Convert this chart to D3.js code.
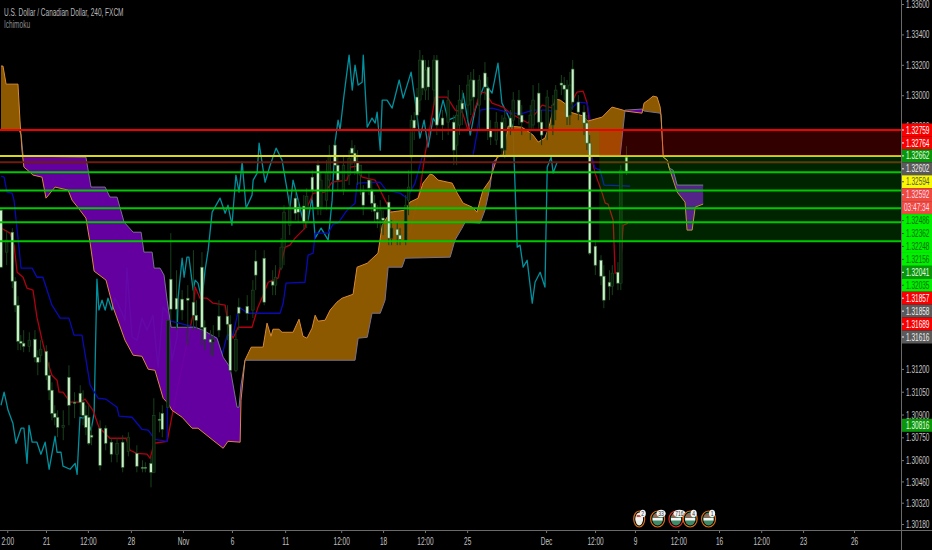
<!DOCTYPE html>
<html><head><meta charset="utf-8">
<script src="https://cdn.jsdelivr.net/npm/d3@7/dist/d3.min.js"></script>
<style>html,body{margin:0;padding:0;background:#000;overflow:hidden}svg{display:block}</style>
</head><body><svg id="c" width="932" height="550"></svg>
<script>
// All prices are stored as pipettes above 1.30000 (2771 means 1.32771); x values are bar numbers of the 4h series.
const candleBars=[0,2,4,5,6,7,8,10,12,13,14,16,17,18,19,20,22,24,26,28,29,30,31,32,35,37,39,41,43,45,48,50,51,53,54,56,57,59,60,62,64,66,68,69,71,72,74,75,77,80,81,83,84,87,89,90,93,96,97,99,100,102,104,105,107,108,110,112,113,115,116,118,119,121,123,124,125,126,127,128,130,131,132,133,134,135,137,138,140,141,143,144,145,146,147,148,149,150,151,153,154,156,158,160,161,162,163,165,166,167,169,171,172,173,175,177,178,180,181,183,184,187,188,190,191,193,195,196,198,199,200,201,202,204,206,207,208,210,212,213,215,216,218,219,221];
const candleOpen=[2244,1968,2099,1777,1619,1382,1369,1349,1395,1277,1290,1316,1158,1060,908,882,816,1145,981,1040,981,895,882,764,810,810,718,639,718,658,645,553,553,579,520,869,908,948,1790,1665,1659,1665,1639,1553,1869,1474,1395,1376,1547,1547,1494,1191,1606,1612,1587,1909,1928,1777,1751,1863,2001,2145,2323,2264,2271,2165,2461,2540,2264,2310,2442,2672,2540,2376,2475,2652,2619,2560,2475,2363,2442,2376,2290,2231,2178,2192,2297,2060,2119,2080,2047,2310,2593,2836,2988,2968,3231,3034,3185,3034,3231,2850,2823,2823,2672,2804,2948,2935,2968,3100,2935,3146,3047,2771,2705,2823,2639,2850,2836,2968,2869,2771,2804,3014,2823,2771,2804,2903,3080,3067,3040,2869,3172,2955,2889,2817,2685,2007,1915,1810,1770,1744,1836,1764,2593];
const candleHigh=[2257,2113,2126,1803,1678,1422,1455,1441,1455,1323,1389,1356,1244,1112,961,928,928,1224,1047,1093,1060,961,961,829,862,829,744,744,764,783,698,599,586,625,1007,915,961,1520,2093,1849,1718,1751,1981,1652,1968,1520,1455,1488,1652,1619,1553,1455,1665,1685,1784,1981,1981,1849,1882,2060,2277,2343,2376,2310,2343,2389,2507,2573,2494,2573,2672,2705,2606,2606,2639,2705,2672,2639,2540,2409,2494,2442,2343,2277,2310,2244,2343,2178,2165,2126,2343,2507,2869,2889,3047,3297,3264,3231,3231,3264,3264,2903,3034,2869,2935,3067,3034,3133,3153,3172,3133,3218,3120,2836,2889,2869,2903,2903,3021,3034,2935,2935,3067,3080,2903,3034,3001,3067,3133,3120,3100,3153,3231,3001,2935,2869,2738,2047,1948,1882,1849,1882,1902,2540,2665];
const candleLow=[1863,1882,1731,1573,1323,1323,1310,1310,1244,1158,1244,1126,994,862,829,751,731,829,876,895,829,764,698,698,533,665,586,586,520,625,520,520,520,421,520,783,751,948,1520,1455,1520,1356,1455,1455,1356,1323,1290,1283,1408,1389,1178,1178,1455,1520,1534,1718,1619,1685,1685,1849,1882,2080,2178,2165,2113,2126,2310,2211,2211,2244,2376,2475,2376,2343,2409,2540,2475,2409,2343,2211,2343,2231,2165,2126,2099,2080,2014,2014,2014,2014,2014,2211,2376,2705,2804,2889,3001,2968,2968,2935,2738,2705,2738,2540,2540,2738,2804,2836,2869,2889,2771,2968,2705,2672,2672,2606,2586,2738,2771,2804,2738,2705,2771,2771,2672,2705,2738,2836,3001,2968,2804,2804,2903,2836,2738,2639,1948,1817,1751,1599,1652,1685,1718,1718,2475];
const candleClose=[1869,2047,1777,1619,1382,1369,1349,1389,1277,1244,1330,1158,1060,908,882,816,829,961,974,981,895,816,711,751,566,711,639,711,553,751,560,547,547,520,895,862,803,1520,1593,1593,1587,1652,1553,1520,1474,1395,1376,1395,1455,1494,1191,1395,1566,1566,1718,1817,1639,1751,1803,2001,2231,2264,2224,2231,2165,2336,2376,2264,2442,2494,2606,2540,2442,2540,2586,2619,2560,2488,2540,2277,2389,2290,2238,2185,2244,2178,2060,2126,2080,2053,2277,2396,2836,2784,2869,3231,3047,3166,3054,3231,2804,2804,2968,2639,2869,2968,2909,3067,3100,2988,3100,3054,2771,2725,2823,2652,2850,2790,2968,2869,2823,2869,2968,2823,2738,2988,2935,3034,3067,3040,2856,3067,2955,2889,2817,2685,1961,1882,1810,1652,1744,1830,1764,2507,2501];

const tenkanBars=[0,0.7,3.2,4.6,5.7,7.8,9.2,11.3,12.7,14.5,16.6,18,19.8,20.5,21.9,24.4,27.9,29.7,32.5,34.6,38.5,44.2,45.6,48,51.6,52.7,54.1,58.7,61.5,67.8,68.6,70.3,72.8,74.9,79.2,80.2,82,83.8,88.7,90.8,92.6,94.4,97.9,99.7,100.4,102.1,103.9,107.4,108.5,110.3,114.5,117,122.3,123.4,125.8,127.6,132.2,135.7,138.5,141,144.5,148,149.9,151.6,153.4,157.6,160.5,163,165,169.3,171,173.5,177.4,179.9,186.2,191.2,195,199.3,203.5,205.7,207.1,207.8,208.8,209.9,212.4,213.5,214.5,216.3,217,218.8,219.8,221.6];
const tenkanVals=[2126,2119,2093,2014,1836,1803,1731,1718,1540,1389,1237,1158,1126,1047,1047,981,981,1001,928,816,744,744,665,645,639,612,711,724,994,1553,1738,1665,1665,1632,1619,1501,1402,1474,1474,1606,1685,1770,1797,1948,2001,2014,2060,2126,2277,2356,2363,2428,2442,2527,2534,2461,2442,2310,2211,2099,2099,2376,2619,2790,2988,2988,2902,2889,2771,3014,3021,2948,2922,2882,2817,2935,2915,2869,3021,3027,2948,2836,2586,2488,2356,2290,2284,2178,1830,1830,2145,2159];

const kijunBars=[0,1.1,2.1,3.9,4.6,7.1,11,12.7,14.8,18,20.9,24,25.8,28.6,31.5,34.3,37.1,41,41.7,46.3,49.8,52,54.4,58.7,59,68.6,76.3,78.1,79.9,82,84.1,87.3,98.6,99.7,100.7,107.4,108.5,110.3,111,115.6,117.3,119.1,122.3,125.1,125.8,133.9,136.1,141,143.5,146.3,148.8,166.8,168.2,169.3,173.5,178.8,183.4,188,193,198.6,202.1,203.9,207.1,208.2,208.8,209.9,211.7,213.1,222.3];
const kijunVals=[2468,2461,2363,2356,2310,1863,1863,1803,1803,1619,1534,1534,1422,1422,1093,1007,1001,948,889,882,803,797,737,724,1520,1474,1402,1290,1422,1422,1606,1566,1566,1632,1764,1770,1948,1961,2093,2093,2152,2159,2244,2290,2422,2428,2376,2356,2323,2422,2593,2606,2751,2902,2915,2889,2876,2902,2902,2882,2922,2955,2948,2836,2586,2521,2507,2409,2402];

const laggingBars=[0,1.1,2.5,4.2,5.3,7.1,8.1,9.2,9.9,11,12.7,14.1,15.6,17,19.1,19.8,21.2,21.9,24.4,26.2,26.9,27.9,29,30,31.8,32.9,33.9,34.6,35.7,36.8,37.8,39.2,40.3,42.8,43.8,44.5,46.3,48.1,49.8,51.6,53.7,55.5,57.3,59,60.4,62.2,62.6,64,64.7,65.7,66.4,67.9,68.6,69.6,71,72.1,73.2,74.6,75.6,77.4,79.2,80.2,81.6,83,84.1,85.2,86.6,88.7,89.1,90.5,91.2,93.3,95.1,97.2,99.3,101.1,102.1,103.2,105,106.7,108.5,109.9,111,113.1,115.6,117,118,119.1,119.8,121.2,123,124.1,125.1,126.2,127.6,128,129.4,131.1,132.2,132.9,134,134.7,136.4,138.2,140.7,142.1,144.9,146.3,148,149.5,150.9,152.7,154.1,156.2,158,162.2,163.3,165.8,167.5,171,173.5,175.6,177,178.8,180.6,180.9,182.4,183.4,184.5,185.9,187.7,188.7,190.5,192.2,193,194.4,195.1,196.5];
const laggingVals=[961,1047,928,843,711,810,810,579,829,718,718,639,718,540,757,652,652,560,540,579,507,882,876,895,797,908,1790,1587,1652,1587,1665,1587,1665,1566,1520,1863,1408,1389,1534,1455,1553,1211,1606,1566,1257,1408,1672,1928,1803,1935,1935,1718,1784,1764,1652,1849,1981,2231,2264,2323,2224,2277,2145,2475,2363,2560,2257,2343,2442,2488,2685,2428,2540,2652,2573,2376,2257,2442,2310,2178,2178,2330,2060,2126,2047,2310,2685,2836,2771,3001,3264,3034,3198,3067,3086,3264,2790,2850,2817,2889,2639,2968,2968,2915,3100,2981,3152,2968,2718,2836,2659,2850,2804,2968,2836,2869,3014,2738,2902,3080,3014,3211,2948,2882,2804,2784,2001,2014,1869,1915,1632,1770,1836,1738,2527,2593,2488,2560];

const spanABars=[0,0.7,1.8,6,6.7,7.4,8.1,10.2,11.3,14.5,15.9,19.1,23.7,25.1,27.9,30,31.5,32.9,37.1,39.6,43.8,46.7,49.8,52,54.4,57.3,59,60.4,64,67.5,69.6,74.9,78.5,80.2,84.5,84.8,86.2,88.4,92.6,94,95.4,96.1,98.2,99.3,103.2,105.3,106.7,108.1,109.9,111,112,114.5,116.3,118.7,120.5,124.4,125.8,129.4,133.2,134.7,137.5,142.8,144.5,147.4,149.1,151.6,152.7,154.4,159.4,161.2,163.3,166.5,168.2,169.3,170.3,172.8,175.3,177.4,179.2,184.1,188,189.8,192.2,194,195.8,197.6,200,201.1,205.7,207.4,212.4,215.9,219.8,220.5,226.5,227.2,228.7,230.4,231.8,232.9,233.2,234,235.4,236.1,238.9,241.7,242.4,244.2,245.3,248.1];
const spanAVals=[3192,3192,3073,3073,2836,2639,2527,2494,2475,2461,2323,2396,2376,2310,2244,2192,2027,1843,1784,1606,1389,1290,1283,1198,1191,1007,974,928,882,810,810,731,678,724,718,994,1257,1343,1343,1501,1415,1461,1461,1441,1441,1527,1415,1402,1468,1553,1514,1520,1587,1639,1665,1691,1869,1895,1961,2145,2231,2244,2297,2323,2422,2481,2475,2442,2422,2356,2290,2264,2231,2310,2376,2442,2593,2606,2797,2790,2738,2692,2718,2817,2975,2968,2935,2889,2863,2830,2856,2922,2902,2896,2882,2948,2968,2994,2988,2922,2869,2593,2573,2521,2363,2297,2113,2113,2264,2284];
const spanBBars=[0,6.4,7.1,7.8,8.5,30,31.8,36.8,38.5,41,43.5,46.7,49.5,50.5,53.4,54.1,56.2,57.6,58.7,60.1,68.6,71.4,76.3,78.5,80.9,83.4,84.1,84.8,86.2,125.1,126.2,129.4,131.1,134,135.7,136.8,141.7,142.8,158.7,160.4,162.9,164,169.3,171,172.8,173.9,176.4,218.8,220.5,226.5,227.2,232.9,233.2,234,235.4,236.1,237.5,238.9,248.1];
const spanBVals=[2771,2771,2738,2606,2600,2593,2396,2396,2330,2330,2165,2099,2099,1968,1968,1863,1863,1817,1652,1474,1474,1455,1402,1277,1211,948,948,1093,1257,1257,1402,1408,1566,1566,1652,1869,1869,1928,1935,2047,2126,2165,2159,2244,2396,2560,2606,2606,2902,2909,2896,2882,2869,2593,2573,2521,2507,2409,2409];

const levelVals=[2600,2560,2771,2494,2373,2257,2165,2040];
const levelColors=["#d8d81c","#6e1c0c","#f00000","#00c800","#00c800","#00c800","#00c800","#00c800"];
const levelAfterZones=[false,false,true,true,true,true,true,true];
const zoneStartBar=211.4;
const zoneTops=[2771,2600];
const zoneBottoms=[2600,2040];
const zoneColors=["rgba(255,0,0,.2)","rgba(0,255,0,.14)"];

const priceTicks=[1.336,1.334,1.332,1.330,1.328,1.312,1.3105,1.309,1.3075,1.306,1.3046,1.3032,1.3018];
const tagTexts=["1.32759","1.32764","1.32662","1.32602","1.32594","1.32592","03:47:34","1.32486","1.32362","1.32248","1.32156","1.32041","1.32035","1.31857","1.31858","1.31689","1.31616"];
const tagFills=["#f80000","#f80000","#0a960a","#5a5a5a","#f8f800","#ee4a40","#ee4a40","#00f000","#00f000","#00f000","#00f000","#0a960a","#00f000","#f80000","#5a5a5a","#f80000","#5a5a5a"];
const tagInks=["#fff","#fff","#e8ffe8","#eee","#555","#fde","#fde","#0a6a0a","#0a6a0a","#0a6a0a","#0a6a0a","#e8ffe8","#0a6a0a","#fff","#eee","#fff","#eee"];
const timeBars=[2.2,15.9,30.7,45.9,64.3,81.6,100.4,120.2,135,149.8,164.7,192.6,209.9,224,239.3,253.7,268.6,283.4,301.4];
const timeLabels=["2:00","21","12:00","28","Nov","6","11","12:00","18","12:00","25","Dec","12:00","9","12:00","16","12:00","23","26"];
const ideaBars=[225.5,232,238.5,243.5,250];
const ideaCounts=["2","33","716","4","1"];

const W=932,H=550,plotR=901,plotB=530;
const svg=d3.select("#c");
const x=d3.scaleLinear().domain([0,318]).range([1,plotR]);
const price=d=>1.3+d*1e-5;
const y=d3.scaleLinear().domain([1.3018,1.336]).range([524,4]);
const FONT="'Liberation Sans',Arial,sans-serif",SQ=.62;
svg.append("rect").attr("width",W).attr("height",H).attr("fill","#000");
svg.append("defs").append("clipPath").attr("id","plot").append("rect").attr("width",plotR).attr("height",plotB);
const g=svg.append("g").attr("clip-path","url(#plot)");

function drawLine(bars,vals,color,w){
  const line=d3.line().x(d=>x(d[0])).y(d=>y(price(d[1])));
  g.append("path").attr("d",line(d3.zip(bars,vals))).attr("fill","none").attr("stroke",color).attr("stroke-width",w).attr("stroke-linejoin","round");
}
drawLine(laggingBars,laggingVals,"#00919e",1.3);
drawLine(tenkanBars,tenkanVals,"#b00012",1.3);
drawLine(kijunBars,kijunVals,"#0a0ab4",1.3);

// cloud: interpolate both spans on the union of their bars, split at crossings, one path per run
const aAt=d3.scaleLinear().domain(spanABars).range(spanAVals).clamp(true);
const bAt=d3.scaleLinear().domain(spanBBars).range(spanBVals).clamp(true);
const allBars=Array.from(new Set([...spanABars,...spanBBars])).sort(d3.ascending);
const cloudPts=[];
allBars.forEach((b,i)=>{
  if(i){const p=allBars[i-1],d0=aAt(p)-bAt(p),d1=aAt(b)-bAt(b);
    if(d0*d1<0)cloudPts.push(p+(b-p)*d0/(d0-d1));}
  cloudPts.push(b);
});
const area=d3.area().x(d=>x(d)).y0(d=>y(price(aAt(d)))).y1(d=>y(price(bAt(d))));
const runs=[];
d3.pairs(cloudPts).forEach(([p,b])=>{
  const m=(p+b)/2,up=aAt(m)>=bAt(m),last=runs[runs.length-1];
  if(last&&last.up===up)last.pts.push(b);else runs.push({up,pts:[p,b]});
});
runs.forEach(r=>{
  g.append("path").attr("d",area(r.pts)).attr("fill",r.up?"#955d00":"#6a00aa").attr("fill-opacity",.94);
});
drawLine(spanBBars,spanBVals,"#78708c",1);
drawLine(spanABars,spanAVals,"#d98a34",1);

// candles
const candles=candleBars.map((b,i)=>({b,o:candleOpen[i],h:candleHigh[i],l:candleLow[i],c:candleClose[i]}));
const cg=g.append("g");
cg.selectAll("line").data(candles).join("line")
  .attr("x1",d=>x(d.b)).attr("x2",d=>x(d.b)).attr("y1",d=>y(price(d.h))).attr("y2",d=>y(price(d.l)))
  .attr("stroke","#17401a").attr("stroke-width",1);
cg.selectAll("rect").data(candles).join("rect")
  .attr("x",d=>x(d.b)-1.3).attr("width",2.6)
  .attr("y",d=>y(price(Math.max(d.o,d.c)))).attr("height",d=>Math.max(1,Math.abs(y(price(d.o))-y(price(d.c)))))
  .attr("fill",d=>d.c<d.o?"#cdeecb":"#0a1c0a").attr("stroke",d=>d.c<d.o?"#2c6a30":"#1d4a20").attr("stroke-width",.6);

// levels and zones
const levelLine=(v,c)=>g.append("line").attr("x1",0).attr("x2",plotR).attr("y1",y(price(v))).attr("y2",y(price(v))).attr("stroke",c).attr("stroke-width",2);
levelVals.forEach((v,i)=>{if(!levelAfterZones[i])levelLine(v,levelColors[i]);});
zoneTops.forEach((t,i)=>{
  g.append("rect").attr("x",x(zoneStartBar)).attr("width",plotR-x(zoneStartBar))
   .attr("y",y(price(t))).attr("height",y(price(zoneBottoms[i]))-y(price(t))).attr("fill",zoneColors[i]);
});
levelVals.forEach((v,i)=>{if(levelAfterZones[i])levelLine(v,levelColors[i]);});

// idea markers
const ig=svg.append("g");
ideaBars.forEach((b,i)=>{
  const cx=x(b),cy=519,rx=i==0?5.5:7;
  ig.append("ellipse").attr("cx",cx).attr("cy",cy).attr("rx",rx).attr("ry",8).attr("fill","#000").attr("stroke",i==2?"#e03020":"#d8701a").attr("stroke-width",1.2);
  ig.append("ellipse").attr("cx",cx).attr("cy",cy).attr("rx",rx-1.6).attr("ry",6.4).attr("fill",i==0?"#e6efe6":"#3f8a66");
  ig.append("rect").attr("x",cx-rx+2).attr("y",cy-1).attr("width",2*rx-4).attr("height",2.5).attr("fill","#f4f4f4");
  ig.append("rect").attr("x",cx-rx+3).attr("y",cy-4).attr("width",2*rx-6).attr("height",2).attr("fill","#d84a4a");
  const n=ideaCounts[i];
  ig.append("ellipse").attr("cx",cx+3.5).attr("cy",cy-5.5).attr("rx",1.6+n.length*1.5).attr("ry",3.8).attr("fill","#f2f2f2");
  ig.append("text").attr("transform",`translate(${cx+3.5},${cy-3}) scale(${SQ},1)`).attr("text-anchor","middle")
    .attr("font-family",FONT).attr("font-size",8).attr("fill","#333").text(n);
});

// axes
const ax=svg.append("g");
ax.append("rect").attr("x",plotR).attr("y",0).attr("width",W-plotR).attr("height",H).attr("fill","#000");
ax.append("rect").attr("x",0).attr("y",plotB).attr("width",W).attr("height",H-plotB).attr("fill","#000");
const yAxis=d3.axisRight(y).tickValues(priceTicks).tickSize(3).tickFormat(d3.format(".5f"));
const ya=ax.append("g").attr("transform",`translate(${plotR},0)`).call(yAxis);
ya.select(".domain").remove();
ya.selectAll("line").attr("stroke","#777");
ya.selectAll("text").attr("x",0).attr("dy",".34em").attr("transform",`translate(5,0) scale(${SQ},1)`)
  .attr("font-family",FONT).attr("font-size",10.5).attr("fill","#c4c4c4");
const xAxis=d3.axisBottom(d3.scaleLinear().domain(x.domain()).range(x.range())).tickValues(timeBars).tickSize(3).tickFormat((d,i)=>timeLabels[i]);
const xa=ax.append("g").attr("transform",`translate(0,${plotB})`).call(xAxis);
xa.select(".domain").remove();
xa.selectAll("line").attr("stroke","#777");
xa.selectAll("text").attr("y",0).attr("dy",0).attr("transform",`translate(0,15) scale(${SQ},1)`)
  .attr("font-family",FONT).attr("font-size",10.5).attr("fill","#c4c4c4").attr("text-anchor","middle");
ax.append("line").attr("x1",plotR+.5).attr("x2",plotR+.5).attr("y1",0).attr("y2",H).attr("stroke","#6a6a6a");
ax.append("line").attr("x1",0).attr("x2",W).attr("y1",plotB+.5).attr("y2",plotB+.5).attr("stroke","#6a6a6a");

// price tags
const tagY=d3.scaleLinear().domain([0,16]).range([130,337]);
tagTexts.forEach((t,i)=>{
  const cy=tagY(i);
  ax.append("rect").attr("x",plotR+1).attr("y",cy-6.5).attr("width",W-plotR-1).attr("height",13).attr("fill",tagFills[i]);
  ax.append("text").attr("transform",`translate(${i==6?904:906},${cy+3.6}) scale(${SQ},1)`).attr("font-family",FONT).attr("font-size",10.5).attr("fill",tagInks[i]).text(t);
  if(i!=6)ax.append("line").attr("x1",plotR+1).attr("x2",plotR+3).attr("y1",cy).attr("y2",cy).attr("stroke",tagInks[i]);
});
const cy2=y(1.30816)-2;
ax.append("rect").attr("x",plotR+1).attr("y",cy2-6.5).attr("width",W-plotR-1).attr("height",13).attr("fill","#0a960a");
ax.append("text").attr("transform",`translate(906,${cy2+3.6}) scale(${SQ},1)`).attr("font-family",FONT).attr("font-size",10.5).attr("fill","#e8ffe8").text("1.30816");

// titles
const tt=(s,yy,c)=>svg.append("text").attr("transform",`translate(4,${yy}) scale(${SQ},1)`).attr("font-family",FONT).attr("font-size",10.5).attr("fill",c).text(s);
tt("U.S. Dollar / Canadian Dollar, 240, FXCM",15.5,"#b8b8b8");
tt("Ichimoku",27.5,"#8c8c8c");
</script></body></html>
